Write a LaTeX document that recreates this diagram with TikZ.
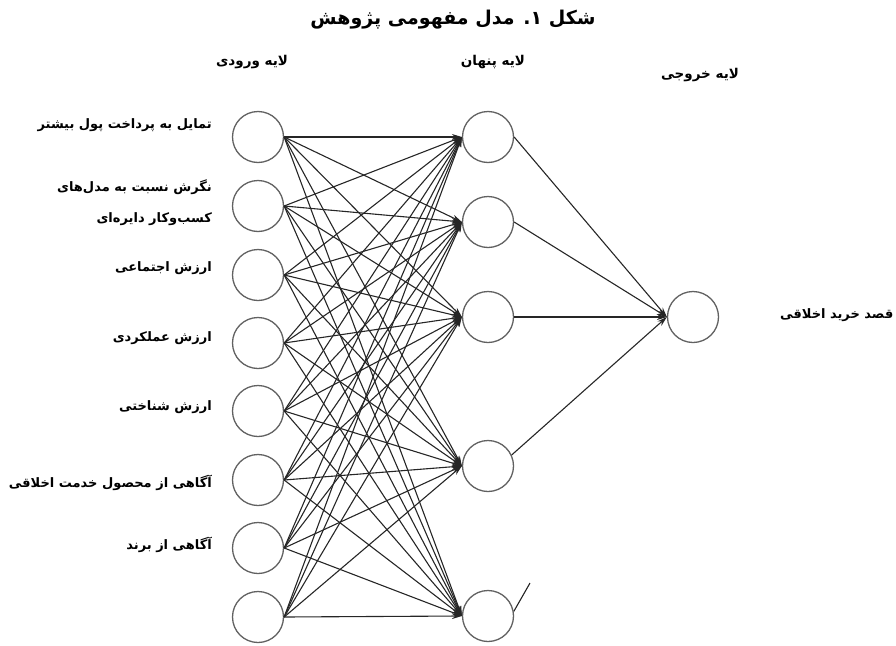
\documentclass[tikz,border=0pt]{standalone}
\usepackage{fontspec}
\newfontfamily\fa[Script=Arabic]{DejaVu Sans}
\TeXXeTstate=1
\usetikzlibrary{arrows.meta}
\tikzset{
  neuron/.style={circle,draw=black!62,line width=1.3pt,minimum size=51pt,inner sep=0pt},
  link/.style={draw=black!85,line width=1.1pt,-{Stealth[length=10pt,width=6pt]}},
  plainlink/.style={draw=black!85,line width=1.1pt},
  lbl/.style={font=\fa\bfseries\fontsize{13}{31}\selectfont,inner sep=0pt,anchor=east,align=right},
  layerlbl/.style={font=\fa\bfseries\fontsize{13.5}{16}\selectfont,inner sep=0pt},
  titlelbl/.style={font=\fa\bfseries\fontsize{19}{22}\selectfont,inner sep=0pt}
}
\begin{document}
\begin{tikzpicture}[x=1pt,y=-1pt]
\useasboundingbox (0,0) rectangle (896,645);
% title and layer labels
\node[titlelbl] (title) at (453,20) {\beginR شکل ۱. مدل مفهومی پژوهش\endR};
\node[layerlbl] (Lin) at (252,62) {\beginR لایه ورودی\endR};
\node[layerlbl] (Lhid) at (493,62) {\beginR لایه پنهان\endR};
\node[layerlbl] (Lout) at (700,75) {\beginR لایه خروجی\endR};
% input neurons
\foreach \k/\y in {1/137,2/206,3/275,4/343,5/411,6/480,7/548,8/617}
  \node[neuron] (i\k) at (258,\y) {};
% hidden neurons
\foreach \k/\y in {1/137,2/222,3/317,4/466,5/616}
  \node[neuron] (h\k) at (488,\y) {};
% output neuron
\node[neuron] (o) at (693,317) {};
% input labels
\node[lbl] (t1) at (212,125) {\beginR تمایل به پرداخت پول بیشتر\endR};
\node[lbl] (t2) at (212,202.5) {\beginR نگرش نسبت به مدل‌های\endR\\\beginR کسب‌وکار دایره‌ای\endR};
\node[lbl] (t3) at (212,268) {\beginR ارزش اجتماعی\endR};
\node[lbl] (t4) at (212,338) {\beginR ارزش عملکردی\endR};
\node[lbl] (t5) at (212,407) {\beginR ارزش شناختی\endR};
\node[lbl] (t6) at (212,483) {\beginR آگاهی از محصول خدمت اخلاقی\endR};
\node[lbl] (t7) at (212,545) {\beginR آگاهی از برند\endR};
\node[lbl,anchor=west] (tout) at (780,315) {\beginR قصد خرید اخلاقی\endR};
% input -> hidden
\foreach \a in {1,...,8}
  \foreach \b in {1,...,5}
    \draw[link] (i\a.east) -- (h\b.west);
% hidden -> output
\draw[link] (h1.east) -- (o.west);
\draw[link] (h2.east) -- (o.west);
\draw[link] (h3.east) -- (o.west);
\draw[link] (h4.25) -- (o.west);
\coordinate (cut) at (530,583);
\draw[plainlink] (h5.10) -- (cut);
\end{tikzpicture}
\end{document}
